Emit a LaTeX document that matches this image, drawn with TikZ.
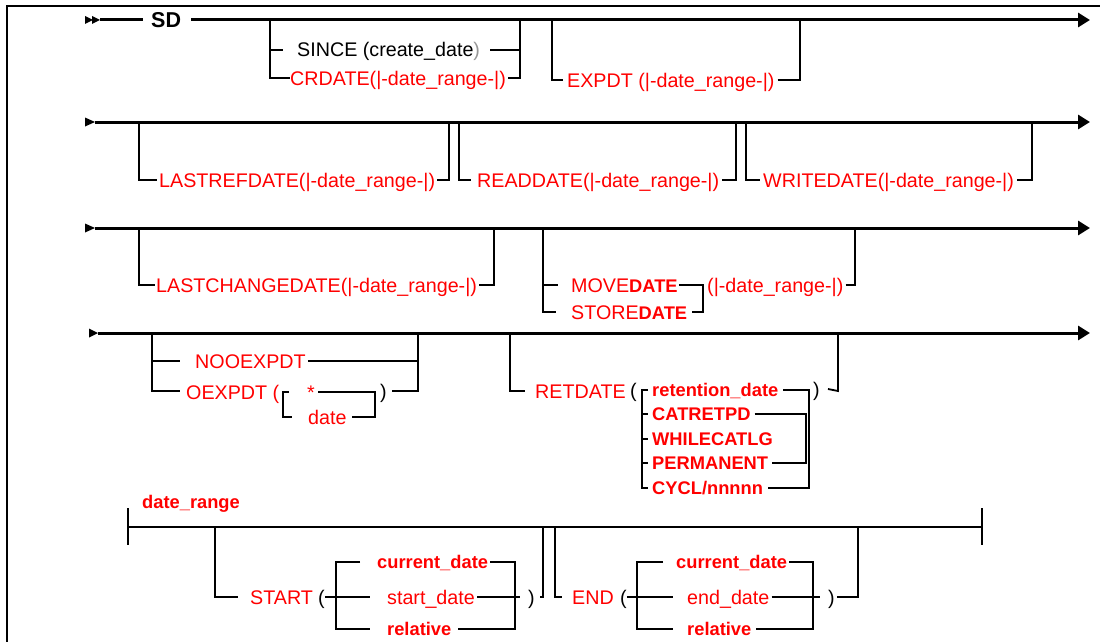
\documentclass[tikz,border=0pt]{standalone}
\usepackage{fontspec}
\setmainfont{Liberation Sans}
\usetikzlibrary{arrows.meta}
\definecolor{rd}{RGB}{255,0,0}
\definecolor{gy}{RGB}{150,150,150}
\newcommand{\myreg}{\fontsize{19.7}{22}\selectfont}
\newcommand{\mybold}{\fontsize{18.3}{20}\selectfont\bfseries}
\newcommand{\mysd}{\fontsize{21.5}{24}\selectfont\bfseries}
\begin{document}
\begin{tikzpicture}[x=1pt,y=-1pt,
  main/.style={line width=3pt},
  br/.style={line width=1.8pt},
  frameline/.style={line width=1.2pt},
  lbl/.style={anchor=west, inner sep=0pt, text height=14pt, text depth=0pt, font=\myreg, text=rd},
  blbl/.style={lbl, font=\mybold, text height=13pt},
  klbl/.style={lbl, text=black},
  endarrow/.style={-{Triangle[length=12pt,width=14pt]}},
  startmark/.style={fill=black}
]
\useasboundingbox (0,0) rectangle (1100,642);
\draw[frameline] (7,642) -- (7,6) -- (1100,6);

% ---------------- Row 1 ----------------
\fill[startmark] (85,16) -- (93,20) -- (85,24) -- cycle;
\fill[startmark] (92,16) -- (100,20) -- (92,24) -- cycle;
\coordinate (r1s) at (100,20);
\coordinate (r1e) at (1090,20);
\node[anchor=west, inner sep=0pt, text height=15.4pt, text depth=0pt, font=\mysd] (sd) at (151,20) {SD};
\draw[main] (r1s) -- ([xshift=-8pt]sd.west);
\draw[main, endarrow] ([xshift=10pt]sd.east) -- (r1e);

\node[klbl] (since) at (297,50) {SINCE (create\_date\textcolor{gy}{)}};
\node[lbl] (crdate) at (290,78) {CRDATE(|-date\_range-|)};
\draw[br] (270,20) -- (270,78) -- (crdate.west);
\draw[br] (270,50) -- (283,50);
\draw[br] ([xshift=10pt]since.east) -- (520,50);
\draw[br] (520,20) -- (520,78) -- ([xshift=2pt]crdate.east);

\node[lbl] (expdt) at (567,80) {EXPDT (|-date\_range-|)};
\draw[br] (552,20) -- (552,80) -- (563,80);
\draw[br] ([xshift=3pt]expdt.east) -- (800,80) -- (800,20);

% ---------------- Row 2 ----------------
\fill[startmark] (85,117.5) -- (95,122) -- (85,126.5) -- cycle;
\coordinate (r2s) at (95,122);
\coordinate (r2e) at (1090,122);
\draw[main, endarrow] (r2s) -- (r2e);

\node[lbl] (lastref) at (159,180) {LASTREFDATE(|-date\_range-|)};
\draw[br] (139,122) -- (139,180) -- (157,180);
\draw[br] ([xshift=2pt]lastref.east) -- (449,180) -- (449,122);

\node[lbl] (readd) at (477,180) {READDATE(|-date\_range-|)};
\draw[br] (459,122) -- (459,180) -- (471,180);
\draw[br] ([xshift=3pt]readd.east) -- (736,180) -- (736,122);

\node[lbl] (writed) at (763,180) {WRITEDATE(|-date\_range-|)};
\draw[br] (746,122) -- (746,180) -- (760,180);
\draw[br] ([xshift=3pt]writed.east) -- (1032,180) -- (1032,122);

% ---------------- Row 3 ----------------
\fill[startmark] (85,223.5) -- (95,228) -- (85,232.5) -- cycle;
\coordinate (r3s) at (95,228);
\coordinate (r3e) at (1090,228);
\draw[main, endarrow] (r3s) -- (r3e);

\node[lbl] (lastchg) at (156,285) {LASTCHANGEDATE(|-date\_range-|)};
\draw[br] (139,228) -- (139,285) -- (155,285);
\draw[br] ([xshift=2pt]lastchg.east) -- (494,285) -- (494,228);

\node[lbl] (moved) at (571,285) {MOVE{\mybold DATE}};
\node[lbl] (stored) at (571,312) {STORE{\mybold DATE}};
\node[lbl] (mvrange) at (707,285) {(|-date\_range-|)};
\draw[br] (543,228) -- (543,312) -- (556,312);
\draw[br] (543,285) -- (558,285);
\draw[br] ([xshift=1pt]moved.east) -- (703,285) -- (703,312) -- ([xshift=5pt]stored.east);
\draw[br] ([xshift=2pt]mvrange.east) -- (855,285) -- (855,228);

% ---------------- Row 4 ----------------
\fill[startmark] (89,328.5) -- (98,333) -- (89,337.5) -- cycle;
\coordinate (r4s) at (98,333);
\coordinate (r4e) at (1090,333);
\draw[main, endarrow] (r4s) -- (r4e);

\node[lbl] (nooexp) at (195,361) {NOOEXPDT};
\node[lbl] (oexp) at (186,392) {OEXPDT (};
\node[lbl] (star) at (307,392) {*};
\node[lbl] (odate) at (308,417) {date};
\node[klbl] (ocl) at (380,391) {)};
\draw[br] (152,333) -- (152,391) -- (180,391);
\draw[br] (152,361) -- (180,361);
\draw[br] ([xshift=2pt]nooexp.east) -- (418,361);
\draw[br] (418,333) -- (418,391) -- ([xshift=5pt]ocl.east);
\draw[br] (289,392) -- (283,392) -- (283,417) -- (292,417);
\draw[br] ([xshift=3pt]star.east) -- (375,392) -- (375,417) -- ([xshift=5pt]odate.east);

\node[lbl] (retd) at (535,391) {RETDATE};
\node[klbl] (retop) at (630,390) {(};
\node[blbl] (reten) at (652,390) {retention\_date};
\node[blbl] (catret) at (652,414) {CATRETPD};
\node[blbl] (whilec) at (652,439) {WHILECATLG};
\node[blbl] (perm) at (652,463) {PERMANENT};
\node[blbl] (cycl) at (652,488) {CYCL/nnnnn};
\node[klbl] (retcl) at (813,389) {)};
\draw[br] (510,333) -- (510,391) -- (525,391);
\draw[br] (648,390) -- (642,390) -- (642,488) -- (648,488);
\draw[br] (642,414) -- (648,414);
\draw[br] (642,439) -- (648,439);
\draw[br] (642,463) -- (648,463);
\draw[br] ([xshift=5pt]reten.east) -- (809,390) -- (809,488) -- ([xshift=5pt]cycl.east);
\draw[br] ([xshift=4pt]catret.east) -- (806,414) -- (806,463) -- ([xshift=4pt]perm.east);
\draw[br] ([xshift=8pt]retcl.east) -- (838,391) -- (838,333);

% ---------------- date_range ----------------
\node[blbl] (drlab) at (142,502) {date\_range};
\coordinate (drs) at (128,527);
\coordinate (dre) at (982,527);
\draw[br] (drs) -- (dre);
\draw[br] (128,508) -- (128,545);
\draw[br] (982,508) -- (982,545);

\node[lbl] (start) at (250,597) {START};
\node[klbl] (stop) at (318,597) {(};
\node[blbl] (scur) at (377,562) {current\_date};
\node[lbl] (sdate) at (387,597) {start\_date};
\node[blbl] (srel) at (387,629) {relative};
\node[klbl] (stcl) at (528,597) {)};
\draw[br] (215,527) -- (215,597) -- (238,597);
\draw[br] (stop.east) -- (370,597);
\draw[br] (360,562) -- (336,562) -- (336,629) -- (370,629);
\draw[br] ([xshift=2pt]scur.east) -- (515,562) -- (515,629) -- ([xshift=6pt]srel.east);
\draw[br] ([xshift=2pt]sdate.east) -- (520,597);
\draw[br] (540,597) -- (543,597) -- (543,527);

\node[lbl] (endn) at (572,597) {END};
\node[klbl] (enop) at (620,597) {(};
\node[blbl] (ecur) at (676,562) {current\_date};
\node[lbl] (edate) at (687,597) {end\_date};
\node[blbl] (erel) at (687,629) {relative};
\node[klbl] (encl) at (828,597) {)};
\draw[br] (555,527) -- (555,597) -- (562,597);
\draw[br] (enop.east) -- (673,597);
\draw[br] (663,562) -- (637,562) -- (637,629) -- (673,629);
\draw[br] ([xshift=2pt]ecur.east) -- (813,562) -- (813,629) -- ([xshift=4pt]erel.east);
\draw[br] ([xshift=2pt]edate.east) -- (820,597);
\draw[br] ([xshift=2pt]encl.east) -- (858,597) -- (858,527);
\end{tikzpicture}
\end{document}
